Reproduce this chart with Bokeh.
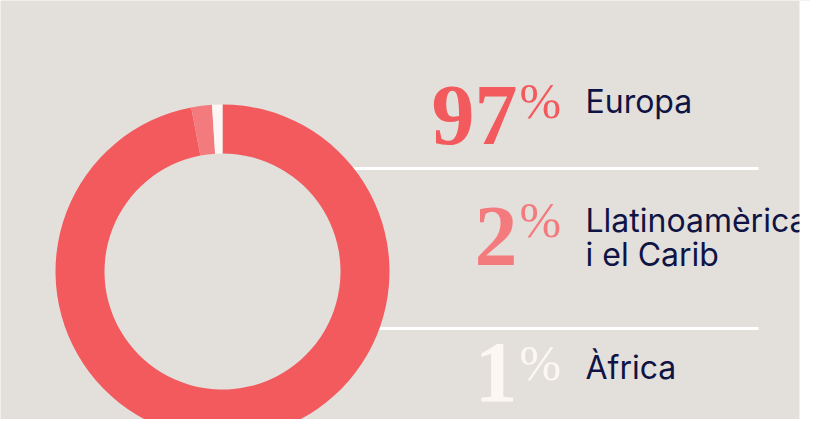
from bokeh.plotting import figure
from bokeh.models import Range1d, BoxAnnotation, ColumnDataSource
from bokeh.core.properties import value
from bokeh.embed import file_html
from bokeh.resources import INLINE
import math

# ---- data ----
regions = ["Europa", "Llatinoamèrica\ni el Carib", "Àfrica"]
shares = [97, 2, 1]
slice_colors = ["#f25a5e", "#f47b7d", "#fcf6f4"]
pct_colors = ["#f25a5e", "#f47b7d", "#fcf6f4"]

W, H = 810, 419

def X(rx):
    return rx

def Y(ry):
    return H - ry

p = figure(width=W, height=H, output_backend="svg", toolbar_location=None,
           x_range=Range1d(0, W), y_range=Range1d(0, H), min_border=0,
           background_fill_color="#e3e0dc", border_fill_color="white",
           outline_line_color=None)
p.axis.visible = False
p.grid.visible = False
p.add_layout(BoxAnnotation(left=X(799), fill_color="white", fill_alpha=1, line_color=None))

# separator lines (behind donut)
for ry in [168, 328]:
    p.line([X(340), X(758)], [Y(ry), Y(ry)], line_color="white", line_width=3)

# donut
cx, cy, r_out, r_in = X(222), Y(271), 167, 118
total = sum(shares)
starts, ends = [], []
acc = 0.0
for s in shares:
    a0 = math.pi / 2 - 2 * math.pi * acc / total
    acc += s
    a1 = math.pi / 2 - 2 * math.pi * acc / total
    starts.append(a0)
    ends.append(a1)
src = ColumnDataSource(dict(start=starts, end=ends, color=slice_colors))
p.annular_wedge(x=cx, y=cy, inner_radius=r_in, outer_radius=r_out,
                start_angle="start", end_angle="end", direction="clock",
                fill_color="color", line_color=None, source=src)

# numbers and labels (baselines in picture pixels; small correction for text box offset)
NUM_SIZE, PCT_SIZE, LAB_SIZE = 86, 50, 32
K = 0.32
num_baselines = [143, 264, 400]
pct_baselines = [116, 235, 378]
label_baselines = [111, 230, 377]
for i, (reg, s) in enumerate(zip(regions, shares)):
    p.text(x=[X(517)], y=[Y(num_baselines[i] - K * NUM_SIZE)], text=[str(s)],
           text_font=value("Liberation Serif"), text_font_size=f"{NUM_SIZE}px",
           text_font_style="bold",
           text_color=pct_colors[i], text_align="right", text_baseline="alphabetic")
    p.text(x=[X(519)], y=[Y(pct_baselines[i] - K * PCT_SIZE)],
           text=["%"], text_font=value("Liberation Serif"), text_font_size=f"{PCT_SIZE}px",
           text_color=pct_colors[i], text_align="left", text_baseline="alphabetic")
    for j, line in enumerate(reg.split("\n")):
        p.text(x=[X(585)], y=[Y(label_baselines[i] + 34 * j - K * LAB_SIZE)], text=[line],
               text_font=value("Inter"), text_font_size=f"{LAB_SIZE}px",
               text_color="#0f1445", text_align="left", text_baseline="alphabetic")

open("out.html", "w").write(file_html(p, INLINE))
